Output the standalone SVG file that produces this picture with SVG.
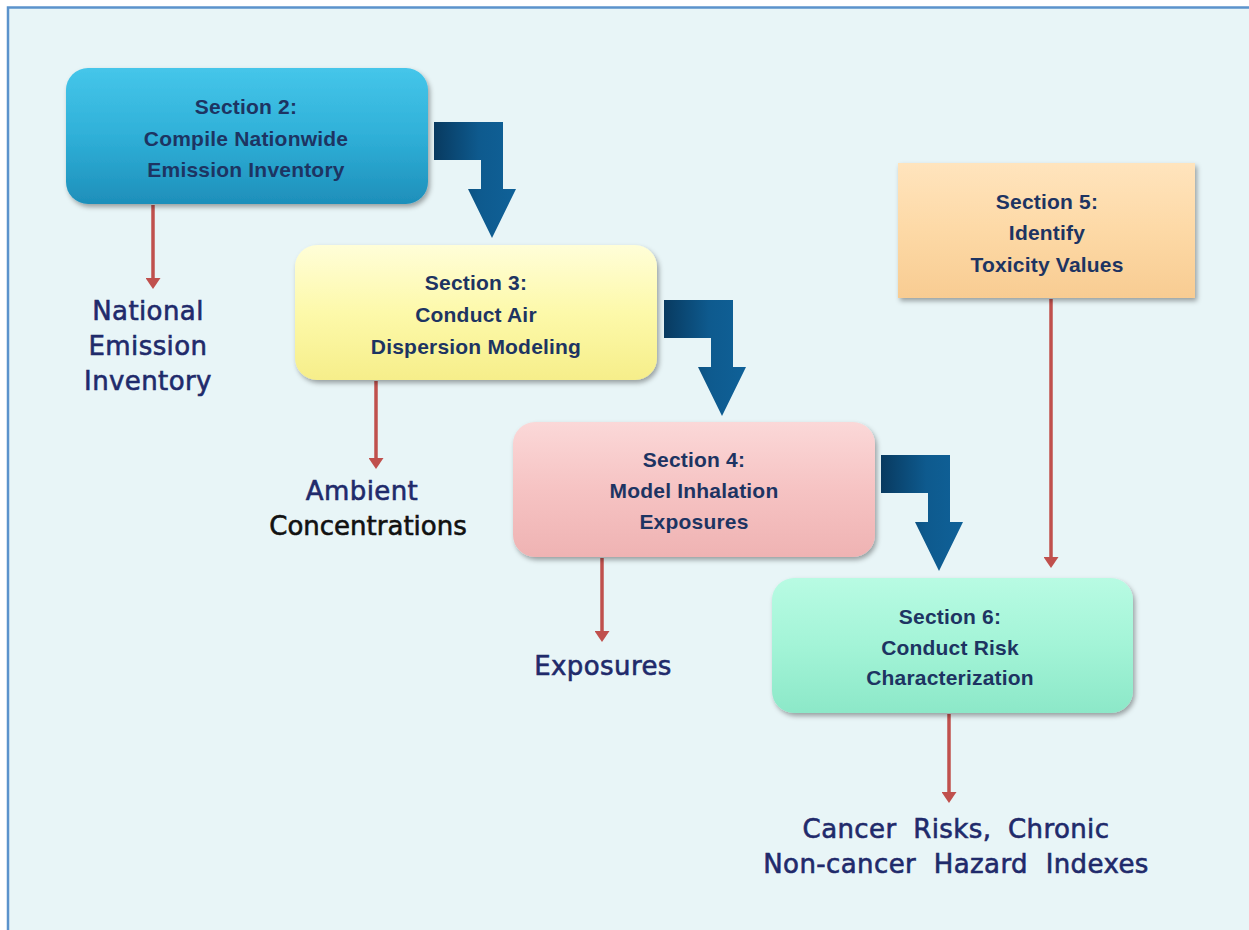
<svg xmlns="http://www.w3.org/2000/svg" width="1249" height="930" viewBox="0 0 1249 930">
<defs>
<linearGradient id="gCyan" x1="0" y1="0" x2="0" y2="1"><stop offset="0" stop-color="#45c6ea"/><stop offset="0.5" stop-color="#2fb0d8"/><stop offset="1" stop-color="#1e8fba"/></linearGradient>
<linearGradient id="gYellow" x1="0" y1="0" x2="0" y2="1"><stop offset="0" stop-color="#fffed8"/><stop offset="0.5" stop-color="#fdf9aa"/><stop offset="1" stop-color="#f6ee8a"/></linearGradient>
<linearGradient id="gPink" x1="0" y1="0" x2="0" y2="1"><stop offset="0" stop-color="#fbd8d8"/><stop offset="0.5" stop-color="#f6c3c3"/><stop offset="1" stop-color="#efb3b3"/></linearGradient>
<linearGradient id="gPeach" x1="0" y1="0" x2="0" y2="1"><stop offset="0" stop-color="#ffe4bd"/><stop offset="0.5" stop-color="#fdd9a6"/><stop offset="1" stop-color="#f8cc92"/></linearGradient>
<linearGradient id="gMint" x1="0" y1="0" x2="0" y2="1"><stop offset="0" stop-color="#b8fbe3"/><stop offset="0.5" stop-color="#a3f4d7"/><stop offset="1" stop-color="#8ce8c8"/></linearGradient>
<linearGradient id="gBlue" x1="0" y1="0" x2="1" y2="0"><stop offset="0" stop-color="#083a60"/><stop offset="0.55" stop-color="#0e5a8e"/><stop offset="1" stop-color="#0f6198"/></linearGradient>
<filter id="sh" x="-10%" y="-10%" width="125%" height="130%"><feDropShadow dx="2" dy="3" stdDeviation="2.5" flood-color="#000" flood-opacity="0.35"/></filter>
<marker id="rh" viewBox="0 0 11 15" refX="3" refY="7.5" markerWidth="11" markerHeight="15" markerUnits="userSpaceOnUse" orient="auto"><path d="M0,0 L11,7.5 L0,15 Z" fill="#c0504d"/></marker>
<path id="elbow" d="M0,0 H69 V67 H82 L58,116 L34,67 H47 V38 H0 Z"/>
<style>
.nt{font-family:"Liberation Sans",Arial,sans-serif;font-weight:bold;font-size:21px;letter-spacing:0.2px;fill:#1d3462;text-anchor:middle}
.lb{font-family:"DejaVu Sans",Verdana,sans-serif;font-size:26px;fill:#1f2a6b;stroke:#1f2a6b;stroke-width:0.6px;text-anchor:middle;letter-spacing:0.4px}
.red{stroke:#c0504d;stroke-width:3.5;fill:none;marker-end:url(#rh)}
.el{fill:url(#gBlue)}
</style>
</defs>
<rect x="0" y="0" width="1249" height="930" fill="#ffffff"/>
<rect x="8" y="7" width="1241" height="923" fill="#e8f5f7"/>
<path d="M8,930 V7.5 H1249" fill="none" stroke="#5b93cc" stroke-width="2.5"/>

<g id="connectors">
<use href="#elbow" class="el" transform="translate(434,122)"/>
<use href="#elbow" class="el" transform="translate(664,300)"/>
<use href="#elbow" class="el" transform="translate(881,455)"/>
<line class="red" x1="153" y1="205" x2="153" y2="281"/>
<line class="red" x1="376" y1="381" x2="376" y2="461"/>
<line class="red" x1="602" y1="558" x2="602" y2="634"/>
<line class="red" x1="1051" y1="299" x2="1051" y2="560"/>
<line class="red" x1="949" y1="714" x2="949" y2="795"/>
</g>

<g id="node-section2">
<rect x="66" y="68" width="362" height="136" rx="22" fill="url(#gCyan)" filter="url(#sh)"/>
<text class="nt" x="246" y="114">Section 2:</text>
<text class="nt" x="246" y="146">Compile Nationwide</text>
<text class="nt" x="246" y="177">Emission Inventory</text>
</g>

<g id="node-section3">
<rect x="295" y="245" width="362" height="135" rx="22" fill="url(#gYellow)" filter="url(#sh)"/>
<text class="nt" x="476" y="290">Section 3:</text>
<text class="nt" x="476" y="322">Conduct Air</text>
<text class="nt" x="476" y="354">Dispersion Modeling</text>
</g>

<g id="node-section4">
<rect x="513" y="422" width="362" height="135" rx="22" fill="url(#gPink)" filter="url(#sh)"/>
<text class="nt" x="694" y="467">Section 4:</text>
<text class="nt" x="694" y="498">Model Inhalation</text>
<text class="nt" x="694" y="529">Exposures</text>
</g>

<g id="node-section5">
<rect x="898" y="163" width="297" height="135" fill="url(#gPeach)" filter="url(#sh)"/>
<text class="nt" x="1047" y="209">Section 5:</text>
<text class="nt" x="1047" y="240">Identify</text>
<text class="nt" x="1047" y="272">Toxicity Values</text>
</g>

<g id="node-section6">
<rect x="772" y="578" width="361" height="135" rx="22" fill="url(#gMint)" filter="url(#sh)"/>
<text class="nt" x="950" y="624">Section 6:</text>
<text class="nt" x="950" y="655">Conduct Risk</text>
<text class="nt" x="950" y="685">Characterization</text>
</g>

<g id="label-nei">
<text class="lb" x="148" y="320">National</text>
<text class="lb" x="148" y="355">Emission</text>
<text class="lb" x="148" y="390">Inventory</text>
</g>

<g id="label-ambient">
<text class="lb" x="362" y="500">Ambient</text>
<text class="lb" x="368" y="535" style="fill:#111111;stroke:#111111;letter-spacing:0">Concentrations</text>
</g>

<g id="label-exposures">
<text class="lb" x="603" y="675">Exposures</text>
</g>

<g id="label-risks">
<text class="lb" x="956" y="838" style="word-spacing:8px">Cancer Risks, Chronic</text>
<text class="lb" x="956" y="873" style="word-spacing:9px">Non-cancer Hazard Indexes</text>
</g>
</svg>
